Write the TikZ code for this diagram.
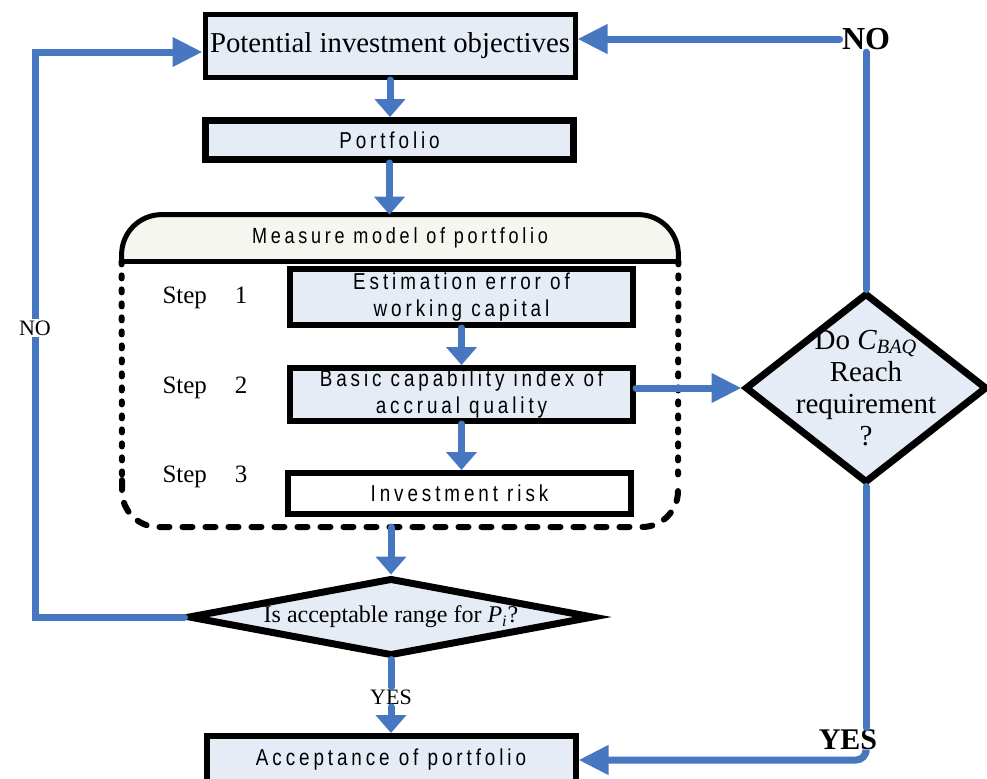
\documentclass[tikz,border=0pt]{standalone}
\usepackage{fontspec}
\setmainfont{Liberation Serif}
\newfontfamily\boxfont[FakeStretch=0.82,LetterSpace=17]{Liberation Sans}
\usetikzlibrary{arrows.meta,shapes.geometric,backgrounds}
\definecolor{flowblue}{RGB}{70,119,192}
\definecolor{boxfill}{RGB}{230,236,246}
\definecolor{headfill}{RGB}{245,246,240}
\tikzset{
  base/.style={font=\fontsize{12.5}{15}\selectfont, align=center, inner sep=1pt, text=black},
  boxtxt/.style={base, font=\boxfont\fontsize{11.5}{13.5}\selectfont},
  box/.style={boxtxt, rectangle, draw=black, fill=boxfill, line width=3pt},
  dec/.style={base, diamond, draw=black, fill=boxfill, line width=3.5pt, inner sep=0pt},
  link/.style={line width=3.5pt, draw=flowblue, line cap=round},
  arr/.style={link, -{Triangle[length=9pt,width=15pt]}},
  harr/.style={link, -{Triangle[length=15pt,width=14pt]}},
  lbl/.style={base, font=\fontsize{11}{13}\selectfont},
  lblb/.style={base, font=\bfseries\fontsize{16}{18}\selectfont},
  steptxt/.style={base},
  dotside/.style={line width=3pt, line cap=round, dash pattern=on 1.5pt off 5.5pt},
  dashbot/.style={line width=3pt, line cap=round, dash pattern=on 5pt off 6.5pt},
}

\begin{document}
\begin{tikzpicture}[x=0.5pt,y=-0.5pt]
  \clip (0,0) rectangle (987,778);
  % main column
  \node[box, line width=2.5pt, minimum width=185pt, minimum height=31.5pt, font=\fontsize{14.4}{17}\selectfont] (obj) at (390,46) {Potential investment objectives};
  \node[box, line width=3.5pt, minimum width=184pt, minimum height=19.5pt] (port) at (389.5,140) {Portfolio};
  % measure model frame
  \node[boxtxt, minimum width=278pt, minimum height=23pt, font=\boxfont\fontsize{11}{13}\selectfont] (measure) at (400,238) {Measure model of portfolio};
  \begin{scope}[on background layer]
    \draw[fill=headfill, line width=2.5pt] (measure.south west) [rounded corners=20pt] |- (measure.north) -| (measure.south east);
    \draw[line width=2.5pt] (measure.south west) -- (measure.south east);
    \draw[dotside] (measure.south west) -- (122,480);
    \draw[dotside] (measure.south east) -- (678,480);
    \draw[dashbot] (122,480) [rounded corners=18pt] |- (400,527) -| (678,480);
  \end{scope}
  \coordinate (mbot) at (391,527);
  % steps
  \node[box, minimum width=171.5pt, minimum height=28pt] (est) at (461.5,297) {Estimation error of\\working capital};
  \node[box, minimum width=171.5pt, minimum height=26.5pt] (bci) at (461.5,394.5) {Basic capability index of\\accrual quality};
  \node[box, fill=white, minimum width=171.5pt, minimum height=20.5pt] (risk) at (459.5,493.5) {Investment risk};
  \node[steptxt] (s1) at (205,298) {Step\hspace{14pt}1};
  \node[steptxt] (s2) at (205,388) {Step\hspace{14pt}2};
  \node[steptxt] (s3) at (205,477) {Step\hspace{14pt}3};
  % decisions
  \node[dec, minimum width=121pt, minimum height=95pt] (reach) at (866,388) {};
  \node[base, font=\fontsize{14.5}{16}\selectfont] (reachtxt) at (866,388) {Do \textit{C}\textsubscript{\textit{BAQ}}\\Reach\\requirement\\?};
  \node[dec, aspect=4.9, minimum width=203pt, minimum height=39pt, font=\fontsize{12}{14}\selectfont] (range) at (391,617) {Is acceptable range for \textit{P}\textsubscript{\textit{i}}?};
  \node[box, minimum width=184.5pt, minimum height=24pt] (accept) at (391,760) {Acceptance of portfolio};
  % labels
  \node[lbl] (yesmid) at (391,697) {YES};
  \node[lblb] (notop) at (866,39) {NO};
  \node[lblb, font=\bfseries\fontsize{15}{17}\selectfont] (yesright) at (848,740) {YES};
  % connectors
  \draw[arr] (obj.south) -- (obj.south |- port.north);
  \draw[arr] (port.south) -- (port.south |- measure.north);
  \draw[arr] (est.south) -- (bci.north);
  \draw[arr] (bci.south) -- (bci.south |- risk.north);
  \draw[harr] (bci.east |- reach.west) -- (reach.west);
  \draw[arr] (mbot) -- (range.north);
  \draw[link] (range.south) -- (yesmid.north);
  \draw[arr] (yesmid.south) -- (accept.north);
  \coordinate (lc) at (35,52);
  \draw[harr] (range.west) -| (lc) -- (lc -| obj.west);
  \draw[link] (reach.north) -- (notop.south);
  \draw[harr] (notop.west) -- (notop.west -| obj.east);
  \draw[link] (reach.south) -- (reach.south |- yesright.north);
  \draw[harr] (reach.south |- yesright.south) [rounded corners=5pt] |- (accept.east);
  \node[lbl, fill=white] (noleft) at (35,328) {NO};
\end{tikzpicture}
\end{document}
